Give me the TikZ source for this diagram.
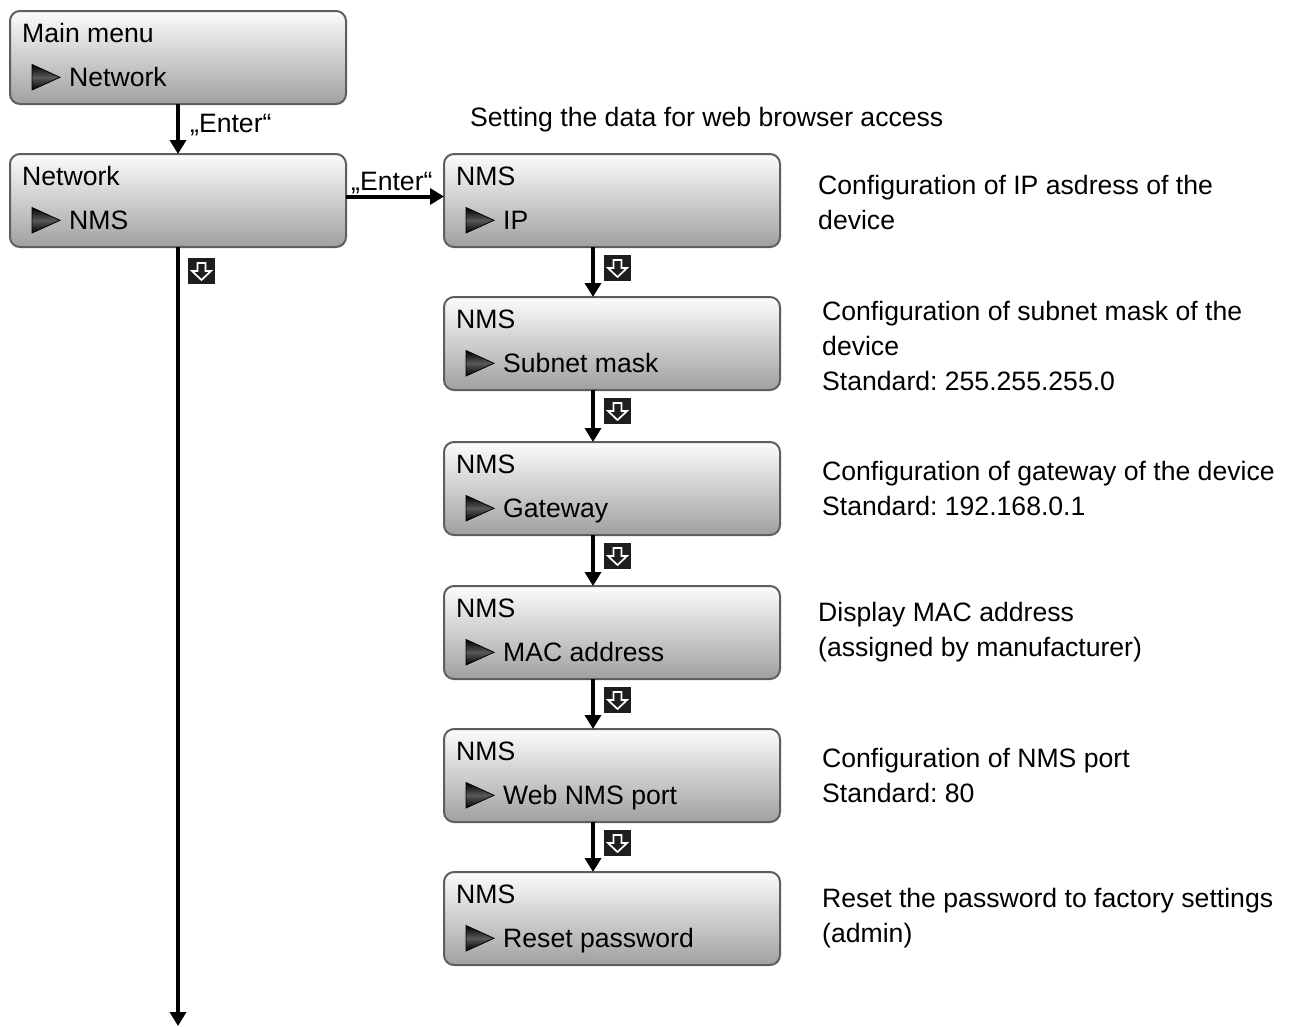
\documentclass[tikz,border=0pt]{standalone}
\usepackage{fontspec}
\setmainfont{Liberation Sans}
\usepackage{tikz}
\usetikzlibrary{arrows.meta, positioning, calc}
\definecolor{boxedge}{HTML}{5E5E5E}
\definecolor{boxtop}{HTML}{FCFCFC}
\definecolor{boxbottom}{HTML}{A0A0A0}
\definecolor{keyfill}{HTML}{1E1E1E}
\frenchspacing

% title, marker and entry inside one menu box
\newcommand{\menulines}[3]{%
  \node[menutext] (#1-title) at ([shift={(12,-31.5)}]#1.north west) {#2};
  \path[marker] ([shift={(22,-53.5)}]#1.north west) -- ([shift={(50,-66.3)}]#1.north west)
    -- ([shift={(22,-79)}]#1.north west) -- cycle;
  \node[menutext] (#1-item) at ([shift={(59,-75.5)}]#1.north west) {#3};
}

\begin{document}
\begin{tikzpicture}[x=1pt, y=1pt,
    font=\fontsize{26.6}{35}\selectfont,
    menubox/.style={rectangle, rounded corners=10pt, draw=boxedge, line width=2pt, top color=boxtop, bottom color=boxbottom, minimum width=336pt, minimum height=93pt, inner sep=0pt, outer sep=0pt},
    menutext/.style={anchor=base west, inner sep=0pt},
    marker/.style={draw=black, line width=0.8pt, line join=miter, top color=black, bottom color=black, middle color=black!65},
    flow/.style={line width=4pt, -{Triangle[width=16pt, length=14pt]}},
    keybox/.style={rectangle, fill=keyfill, minimum width=27pt, minimum height=26pt, inner sep=0pt,
      path picture={\draw[white, line width=1.7pt, line join=miter, shift={(path picture bounding box.center)}]
        (-4,8) -- (4,8) -- (4,0) -- (9.5,0) -- (0,-9) -- (-9.5,0) -- (-4,0) -- cycle;}},
    note/.style={align=left, anchor=west, inner sep=0pt},
    node distance=50pt,
]
    \useasboundingbox (0,0) rectangle (1290,-1026);

    % left column
    \node[menubox, anchor=north west] (main) at (10,-11) {};
    \node[menubox, below=of main] (net) {};
    \menulines{main}{Main menu}{Network}
    \menulines{net}{Network}{NMS}

    % right column
    \node[menubox, right=98pt of net] (ip) {};
    \node[menubox, below=of ip] (sub) {};
    \node[menubox, below=52pt of sub] (gw) {};
    \node[menubox, below=51pt of gw] (mac) {};
    \node[menubox, below=of mac] (port) {};
    \node[menubox, below=of port] (reset) {};
    \menulines{ip}{NMS}{IP}
    \menulines{sub}{NMS}{Subnet mask}
    \menulines{gw}{NMS}{Gateway}
    \menulines{mac}{NMS}{MAC address}
    \menulines{port}{NMS}{Web NMS port}
    \menulines{reset}{NMS}{Reset password}

    % connectors
    \draw[flow] (main) -- (net);
    \node[menutext] (enter1) at ([shift={(12,-28)}]main.south) {„Enter“};
    \draw[flow] ([yshift=4]net.east) -- ([yshift=4]net.east -| ip.west);
    \node[menutext] (enter2) at ([shift={(5,10)}]net.east) {„Enter“};

    \coordinate (bottom) at (net.south |- 0,-1026);
    \draw[flow] (net) -- (bottom);
    \node[keybox] (key0) at ([shift={(23.5,-24)}]net.south) {};

    \coordinate (ipout) at ([xshift=-19]ip.south);
    \coordinate (subout) at ([xshift=-19]sub.south);
    \coordinate (gwout) at ([xshift=-19]gw.south);
    \coordinate (macout) at ([xshift=-19]mac.south);
    \coordinate (portout) at ([xshift=-19]port.south);
    \draw[flow] (ipout) -- (ipout |- sub.north);
    \draw[flow] (subout) -- (subout |- gw.north);
    \draw[flow] (gwout) -- (gwout |- mac.north);
    \draw[flow] (macout) -- (macout |- port.north);
    \draw[flow] (portout) -- (portout |- reset.north);
    \node[keybox] (key1) at ([shift={(24.5,-21)}]ipout) {};
    \node[keybox] (key2) at ([shift={(24.5,-21)}]subout) {};
    \node[keybox] (key3) at ([shift={(24.5,-21)}]gwout) {};
    \node[keybox] (key4) at ([shift={(24.5,-21)}]macout) {};
    \node[keybox] (key5) at ([shift={(24.5,-21)}]portout) {};

    % descriptions
    \node[menutext] (head) at ([shift={(26,-22)}]ip.north west |- main.south) {Setting the data for web browser access};
    \node[note, right=38pt of ip, yshift=-2pt] (ipnote) {Configuration of IP asdress of the\\device};
    \node[note, right=42pt of sub, yshift=-2pt] (subnote) {Configuration of subnet mask of the\\device\\Standard: 255.255.255.0};
    \node[note, right=42pt of gw] (gwnote) {Configuration of gateway of the device\\Standard: 192.168.0.1};
    \node[note, right=38pt of mac] (macnote) {Display MAC address\\(assigned by manufacturer)};
    \node[note, right=42pt of port] (portnote) {Configuration of NMS port\\Standard: 80};
    \node[note, right=42pt of reset] (resetnote) {Reset the password to factory settings\\(admin)};
\end{tikzpicture}
\end{document}
